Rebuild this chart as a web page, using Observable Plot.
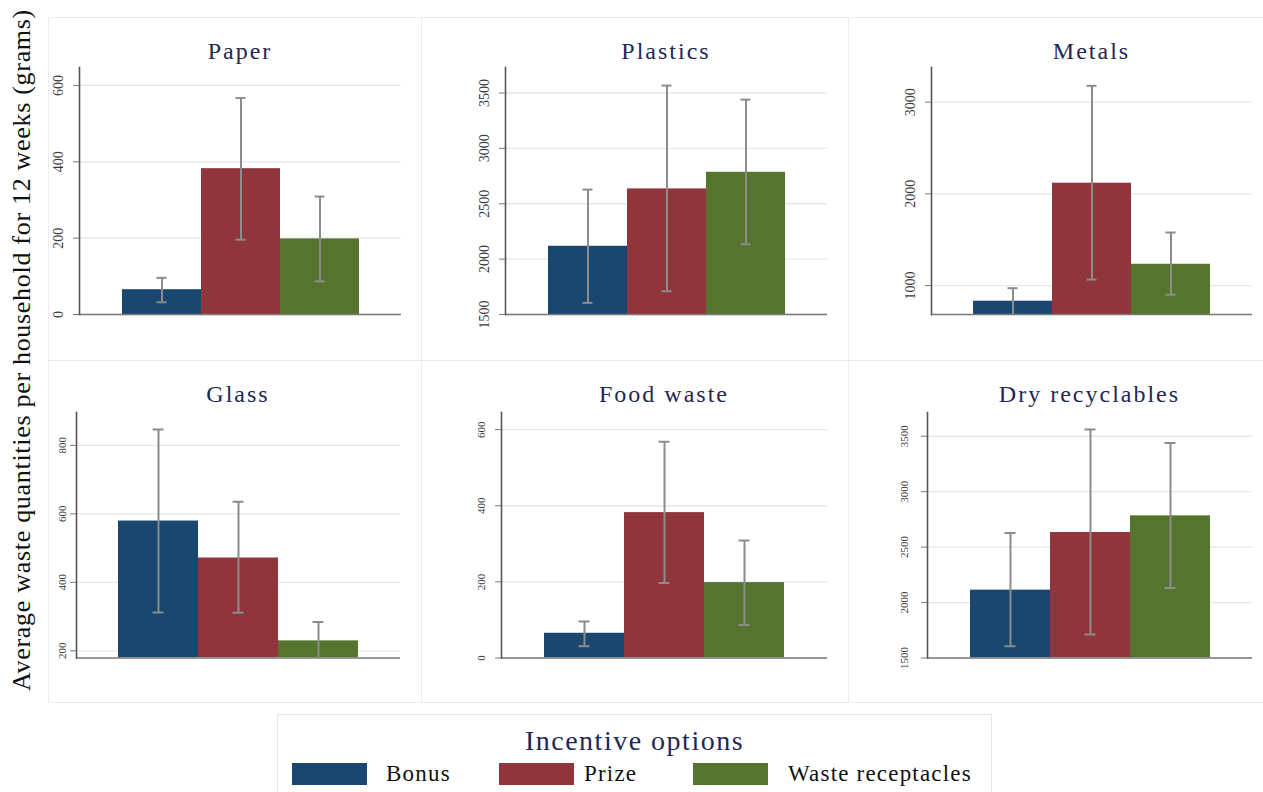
<!DOCTYPE html>
<html><head><meta charset="utf-8">
<script src="https://cdn.jsdelivr.net/npm/d3@7"></script>
<script src="https://cdn.jsdelivr.net/npm/@observablehq/plot@0.6"></script>
<style>
html,body{margin:0;padding:0;background:#fff;}
body{width:1263px;height:792px;overflow:hidden;position:relative;font-family:"Liberation Serif","Times New Roman",serif;}
.box{position:absolute;border:1px solid #e9edf0;box-sizing:border-box;}
.panel{position:absolute;}
.panel svg{display:block;overflow:visible;}
.ptitle{position:absolute;text-align:center;font-size:24px;line-height:24px;color:#1f2753;letter-spacing:2px;white-space:nowrap;}
#ytitle{position:absolute;left:22px;top:350px;transform:translate(-50%,-50%) rotate(-90deg);font-size:26px;letter-spacing:0.7px;white-space:nowrap;color:#111;}
#legend{position:absolute;left:277px;top:714px;width:715px;height:100px;border:1px solid #e3e7ea;box-sizing:border-box;}
#ltitle{position:absolute;left:0;right:0;top:12px;text-align:center;font-size:28px;line-height:28px;letter-spacing:1.5px;color:#1f2753;}
.sw{position:absolute;top:48px;width:75px;height:22px;}
.lab{position:absolute;top:48px;height:22px;line-height:22px;font-size:23px;letter-spacing:1.2px;color:#111;white-space:nowrap;}
</style></head><body>
<script>
// ---- data ----
const categories = ["Paper", "Plastics", "Metals", "Glass", "Food waste", "Dry recyclables"];
const options = ["Bonus", "Prize", "Waste receptacles"];
// mean per category (same order as categories)
const bonusMean  = [65, 2116, 829, 579, 65, 2112];
const prizeMean  = [382, 2634, 2116, 471, 382, 2632];
const receptMean = [198, 2784, 1232, 229, 198, 2782];
// lower end of the error bar
const bonusLow  = [32, 1605, 680, 312, 31, 1605];
const prizeLow  = [196, 1710, 1065, 311, 197, 1711];
const receptLow = [87, 2134, 899, 175, 87, 2132];
// upper end of the error bar
const bonusHigh  = [96, 2628, 971, 846, 96, 2628];
const prizeHigh  = [567, 3567, 3178, 635, 568, 3561];
const receptHigh = [309, 3440, 1578, 284, 309, 3440];
// axis ranges and tick labels
const yMin = [0, 1500, 684, 179, 0, 1500];
const yMax = [647, 3730, 3378, 896, 645, 3714];
const paperTicks = [0, 200, 400, 600];
const plasticsTicks = [1500, 2000, 2500, 3000, 3500];
const metalsTicks = [1000, 2000, 3000];
const glassTicks = [200, 400, 600, 800];
const foodTicks = [0, 200, 400, 600];
const dryTicks = [1500, 2000, 2500, 3000, 3500];
const yTitle = "Average waste quantities per household for 12 weeks (grams)";
const legendTitle = "Incentive options";

// ---- styling / layout ----
const colors = ["#1a476f", "#90353b", "#55752f"];
const tickSets = [paperTicks, plasticsTicks, metalsTicks, glassTicks, foodTicks, dryTicks];
const means = [bonusMean, prizeMean, receptMean];
const lows = [bonusLow, prizeLow, receptLow];
const highs = [bonusHigh, prizeHigh, receptHigh];
const colLeft = [40, 420, 846], colWidth = [380, 426, 417];
const rowTop = [17, 360], rowHeight = [343, 342];
const mLeft = [39, 85, 85, 36, 81, 81];
const mRight = [19, 19, 11, 20, 19, 11];
const mTop = [50, 52], mBottom = [46, 44.5];
const tickFont = [14, 11];
const labelDx = [-21, -21, -21, -14, -20, -23];
const boxes = [[48, 17, 374, 344], [421, 17, 428, 344], [848, 17, 416, 344],
               [48, 360, 374, 343], [421, 360, 428, 343], [848, 360, 416, 343]];

const body = document.body;
for (const b of boxes) {
  const d = document.createElement("div");
  d.className = "box";
  Object.assign(d.style, {left: b[0] + "px", top: b[1] + "px", width: b[2] + "px", height: b[3] + "px"});
  body.appendChild(d);
}

categories.forEach((cat, i) => {
  const r = Math.floor(i / 3), c = i % 3;
  const W = colWidth[c], H = rowHeight[r];
  const data = options.map((o, j) => ({option: o, mean: means[j][i], low: lows[j][i], high: highs[j][i]}));
  const ymin = yMin[i];
  const cap = {stroke: "#8c8c8c", strokeWidth: 2, insetLeft: 34.5, insetRight: 34.5};
  const svg = Plot.plot({
    width: W, height: H,
    marginLeft: mLeft[i], marginRight: mRight[i], marginTop: mTop[r], marginBottom: mBottom[r],
    style: {background: "transparent", fontFamily: "'Liberation Serif', serif", overflow: "visible"},
    x: {domain: options, paddingInner: 0, paddingOuter: 0.52, axis: null},
    y: {domain: [yMin[i], yMax[i]], label: null},
    color: {domain: options, range: colors},
    marks: [
      Plot.gridY(tickSets[i], {stroke: "#e2e9ee", strokeOpacity: 1, strokeWidth: 1.3}),
      Plot.barY(data, {x: "option", y1: ymin, y2: "mean", fill: "option", clip: true}),
      Plot.ruleX(data, {x: "option", y1: "low", y2: "high", stroke: "#8c8c8c", strokeWidth: 2, clip: true}),
      Plot.tickY(data, {x: "option", y: "low", ...cap, clip: true}),
      Plot.tickY(data, {x: "option", y: "high", ...cap, clip: true}),
      Plot.ruleY([ymin], {stroke: "#777", strokeWidth: 1.6}),
      Plot.frame({anchor: "left", stroke: "#555", strokeWidth: 1.6}),
      Plot.axisY(tickSets[i], {tickSize: 6, tickFormat: () => "", stroke: "#777", label: null}),
      Plot.text(tickSets[i], {y: d => d, text: d => String(d), frameAnchor: "left", rotate: -90, dx: labelDx[i],
        textAnchor: "middle", lineAnchor: "middle", fontSize: tickFont[r], fill: "#3a3a3a"})
    ]
  });
  const p = document.createElement("div");
  p.className = "panel";
  Object.assign(p.style, {left: colLeft[c] + "px", top: rowTop[r] + "px", width: W + "px", height: H + "px"});
  p.appendChild(svg);
  const t = document.createElement("div");
  t.className = "ptitle";
  t.textContent = cat;
  Object.assign(t.style, {left: mLeft[i] + "px", width: (W - mLeft[i] - mRight[i]) + "px", top: (r === 0 ? 22 : 22) + "px"});
  p.appendChild(t);
  body.appendChild(p);
});

const yt = document.createElement("div");
yt.id = "ytitle";
yt.textContent = yTitle;
body.appendChild(yt);

const lg = document.createElement("div");
lg.id = "legend";
const lt = document.createElement("div");
lt.id = "ltitle";
lt.textContent = legendTitle;
lg.appendChild(lt);
const swLeft = [14, 221, 415], labLeft = [108, 306, 510];
options.forEach((o, j) => {
  const s = document.createElement("div");
  s.className = "sw";
  s.style.left = swLeft[j] + "px";
  s.style.background = colors[j];
  lg.appendChild(s);
  const l = document.createElement("div");
  l.className = "lab";
  l.style.left = labLeft[j] + "px";
  l.textContent = o;
  lg.appendChild(l);
});
body.appendChild(lg);
</script>
</body></html>
